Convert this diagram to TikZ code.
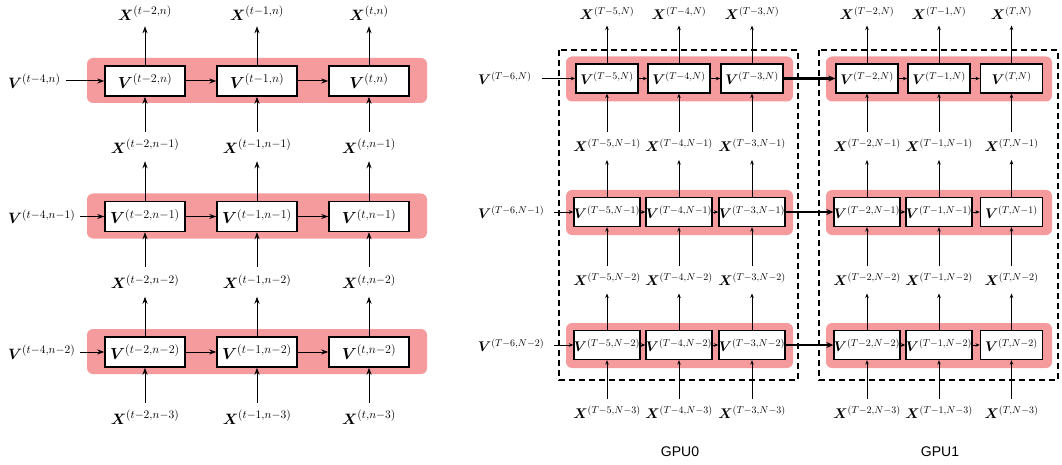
\documentclass[tikz,border=0pt]{standalone}
\usepackage{fix-cm}
\usepackage{fontspec}
\usepackage{amsmath,bm}
\usetikzlibrary{arrows.meta}
\newfontfamily\gpufont{Liberation Sans}
\DeclareMathSizes{16}{16}{12}{9}
\DeclareMathSizes{15}{15}{11.5}{8.5}
\DeclareMathSizes{14}{14}{10}{7}
\definecolor{band}{RGB}{246,155,157}
\tikzset{
  lbox/.style={draw=black,line width=1.4pt,fill=white,minimum width=80pt,minimum height=30pt,inner sep=0pt,font=\fontsize{16}{18}\selectfont},
  rbox/.style={draw=black,line width=1.3pt,fill=white,minimum width=62pt,minimum height=29pt,inner sep=0pt,font=\fontsize{14}{16}\selectfont},
  llab/.style={inner sep=2pt,font=\fontsize{15}{17}\selectfont},
  rlab/.style={inner sep=2pt,font=\fontsize{14}{16}\selectfont},
  larr/.style={line width=1pt,-{Stealth[length=7pt,width=5pt]}},
  rarr/.style={line width=0.9pt,-{Stealth[length=4.5pt,width=3.5pt]}},
  thick arr/.style={line width=2.4pt,-{Stealth[length=7pt,width=6pt]}},
  bandbox/.style={fill=band,draw=none,rounded corners=6pt},
  gpubox/.style={draw=black,line width=1.4pt,dash pattern=on 6pt off 4pt}
}
\begin{document}
\begin{tikzpicture}[x=1pt,y=-1pt]
\useasboundingbox (0,0) rectangle (1062,465);
% ---------------- left panel ----------------
\foreach \cy in {81,216.5,352}{
  \fill[bandbox] (87,\cy-23) rectangle (427,\cy+22);
}
\foreach \c/\cx/\tc in {1/145/t-2,2/257/t-1,3/369/t}{
  \node[llab] (LT\c) at (\cx,13) {$\bm{X}^{(\tc,n)}$};
  \foreach \r/\cy/\nn/\nb in {1/81/n/n-1,2/216.5/n-1/n-2,3/352/n-2/n-3}{
    \node[lbox] (L\r\c) at (\cx,\cy) {$\bm{V}^{(\tc,\nn)}$};
    \node[llab] (LB\r\c) at (\cx,\cy+65) {$\bm{X}^{(\tc,\nb)}$};
    \draw[larr,shorten <=5pt] (LB\r\c.north) -- (L\r\c.south);
  }
  \draw[larr,shorten >=4pt] (L1\c.north) -- (LT\c.south);
  \draw[larr,shorten >=6pt] (L2\c.north) -- (LB1\c.south);
  \draw[larr,shorten >=6pt] (L3\c.north) -- (LB2\c.south);
}
\foreach \r/\nn in {1/n,2/n-1,3/n-2}{
  \node[llab,anchor=west] (LV\r) at (6,0 |- L\r1) {$\bm{V}^{(t-4,\nn)}$};
  \draw[larr,shorten <=3pt] (LV\r.east) -- (L\r1.west);
  \draw[larr] (L\r1) -- (L\r2);
  \draw[larr] (L\r2) -- (L\r3);
}
% ---------------- right panel ----------------
\draw[gpubox] (559,50) rectangle (798,380);
\draw[gpubox] (819,50) rectangle (1058,380);
\foreach \cy in {78.5,212,345}{
  \fill[bandbox] (566,\cy-22) rectangle (793,\cy+23);
  \fill[bandbox] (826,\cy-22) rectangle (1052,\cy+23);
}
\foreach \c/\cx/\tc in {1/607/T-5,2/679/T-4,3/752/T-3,4/867/T-2,5/939/T-1,6/1011.5/T}{
  \node[rlab] (RT\c) at (\cx,13) {$\bm{X}^{(\tc,N)}$};
  \foreach \r/\cy/\nn/\nb in {1/78.5/N/N-1,2/212/N-1/N-2,3/345/N-2/N-3}{
    \node[rbox] (R\r\c) at (\cx,\cy) {$\bm{V}^{(\tc,\nn)}$};
    \node[rlab] (RB\r\c) at (\cx,\cy+67) {$\bm{X}^{(\tc,\nb)}$};
    \draw[rarr,shorten <=5pt] (RB\r\c.north) -- (R\r\c.south);
  }
  \draw[rarr,shorten >=4pt] (R1\c.north) -- (RT\c.south);
  \draw[rarr,shorten >=6pt] (R2\c.north) -- (RB1\c.south);
  \draw[rarr,shorten >=6pt] (R3\c.north) -- (RB2\c.south);
}
\foreach \r/\nn in {1/N,2/N-1,3/N-2}{
  \node[rlab,anchor=west] (RV\r) at (476,0 |- R\r1) {$\bm{V}^{(T-6,\nn)}$};
  \draw[rarr,shorten <=8pt] (RV\r.east) -- (R\r1.west);
  \draw[rarr] (R\r1) -- (R\r2);
  \draw[rarr] (R\r2) -- (R\r3);
  \draw[thick arr] (R\r3) -- (R\r4);
  \draw[rarr] (R\r4) -- (R\r5);
  \draw[rarr] (R\r5) -- (R\r6);
}
\node[font=\gpufont\fontsize{14}{16}\selectfont] (G0) at (680,452) {GPU0};
\node[font=\gpufont\fontsize{14}{16}\selectfont] (G1) at (940,452) {GPU1};
\end{tikzpicture}
\end{document}
